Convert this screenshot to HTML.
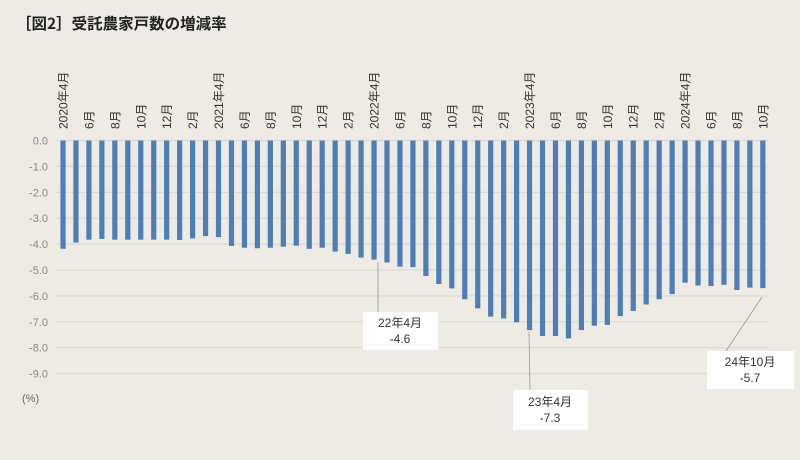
<!DOCTYPE html>
<html><head><meta charset="utf-8"><style>
html,body{margin:0;padding:0;background:#edebe3;}
svg{display:block;}
text{font-family:"Liberation Sans","Noto Sans CJK JP",sans-serif;}
</style></head><body>
<svg width="800" height="460" viewBox="0 0 800 460" xmlns="http://www.w3.org/2000/svg">
<rect width="800" height="460" fill="#edebe3"/>
<text x="16" y="29" font-size="15.5" font-weight="bold" fill="#222" style="font-family:'Noto Sans CJK JP',sans-serif">［図2］受託農家戸数の増減率</text>
<g id="grid" stroke="#dbd9d1" stroke-width="1.2"></g>
<g id="ylab" font-size="11" fill="#888" text-anchor="end"></g>
<text x="22" y="402" font-size="11" fill="#666">(%)</text>
<g id="bars" fill="#4f7db6"></g>
<g id="xlab" font-size="12" fill="#333"></g>
<g stroke="#999" stroke-width="0.8" fill="none">
<line x1="378" y1="262" x2="378" y2="312"/>
<line x1="529" y1="332" x2="530" y2="390"/>
<line x1="762" y1="297" x2="726" y2="351"/>
</g>
<g fill="#fff">
<rect x="363" y="312" width="75" height="38"/>
<rect x="513" y="390" width="75" height="40"/>
<rect x="707" y="351" width="87" height="38"/>
</g>
<g font-size="12" fill="#333" text-anchor="middle" style="font-family:'Liberation Sans','Noto Sans CJK JP',sans-serif">
<text x="400" y="327">22年4月</text><text x="400" y="343">-4.6</text>
<text x="550" y="406">23年4月</text><text x="550" y="422">-7.3</text>
<text x="750" y="366">24年10月</text><text x="750" y="382">-5.7</text>
</g>
</svg>
<script>
var ns="http://www.w3.org/2000/svg";
var v=[-4.18,-3.94,-3.83,-3.8,-3.83,-3.83,-3.83,-3.83,-3.83,-3.84,-3.78,-3.69,-3.73,-4.07,-4.14,-4.16,-4.14,-4.1,-4.06,-4.18,-4.14,-4.29,-4.38,-4.52,-4.6,-4.71,-4.87,-4.89,-5.23,-5.54,-5.71,-6.13,-6.48,-6.8,-6.87,-7.02,-7.32,-7.55,-7.55,-7.64,-7.32,-7.15,-7.12,-6.78,-6.58,-6.33,-6.13,-5.93,-5.49,-5.6,-5.62,-5.57,-5.77,-5.68,-5.7];
var z=140.5,u=25.9;
function el(n,a,p,t){var e=document.createElementNS(ns,n);for(var k in a)e.setAttribute(k,a[k]);if(t)e.textContent=t;document.getElementById(p).appendChild(e);}
for(var i=0;i<=9;i++){var y=z+i*u;el("line",{x1:56,x2:769,y1:y,y2:y},"grid");el("text",{x:48,y:y+4},"ylab",(i==0?"0.0":"-"+i+".0"));}
for(var i=0;i<v.length;i++){var x=63+i*12.96;el("rect",{x:x-2.6,y:z,width:5.2,height:-v[i]*u},"bars");
if(i%2==0){var m=(3+i)%12+1;var yr=2020+Math.floor((3+i)/12);var t=(m==4)?yr+"年4月":m+"月";
el("text",{x:0,y:0,transform:"translate("+(x+4.5)+",129) rotate(-90)"},"xlab",t);}}
</script>
</body></html>
